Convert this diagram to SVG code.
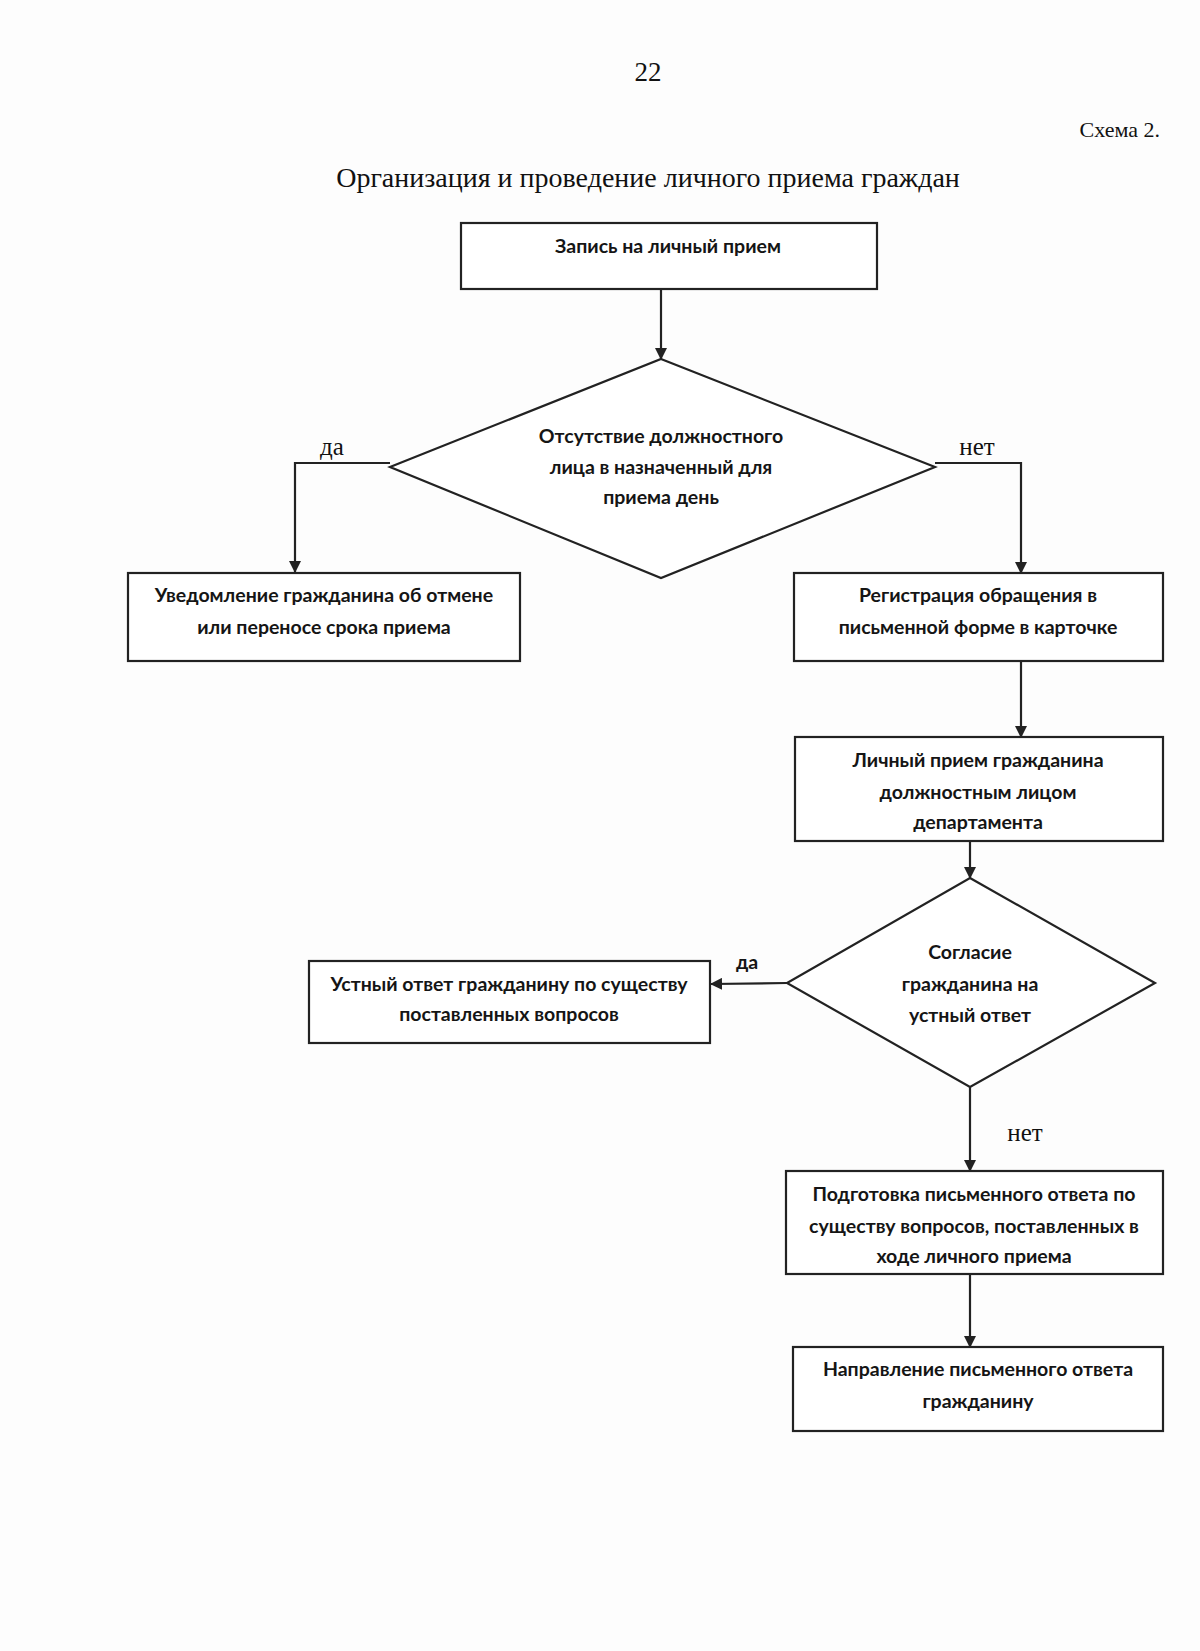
<svg xmlns="http://www.w3.org/2000/svg" width="1200" height="1651" viewBox="0 0 1200 1651">
<defs>
<marker id="ah" viewBox="0 0 12 12" refX="11" refY="6" markerWidth="12" markerHeight="12" markerUnits="userSpaceOnUse" orient="auto">
<path d="M0,0 L12,6 L0,12 z" fill="#222"/>
</marker>
<style>
.box{fill:#fff;stroke:#222;stroke-width:2.2}
.t{font-family:Lato,"Open Sans","Liberation Sans",sans-serif;font-size:19.5px;font-weight:bold;fill:#151515;text-anchor:middle}
.s{font-family:"Liberation Serif","Times New Roman",serif;fill:#111}
.c{fill:none;stroke:#222;stroke-width:2.2}
</style>
</defs>
<rect width="1200" height="1651" fill="#fdfdfd"/>
<text class="s" x="648" y="81" font-size="27" text-anchor="middle">22</text>
<text class="s" x="1160" y="137" font-size="22" text-anchor="end">Схема 2.</text>
<text class="s" x="648" y="187" font-size="28" text-anchor="middle">Организация и проведение личного приема граждан</text>

<g id="connectors">
<path class="c" d="M661,289 L661,359" marker-end="url(#ah)"/>
<path class="c" d="M390,463 L295,463 L295,572" marker-end="url(#ah)"/>
<path class="c" d="M935,463 L1021,463 L1021,573" marker-end="url(#ah)"/>
<path class="c" d="M1021,661 L1021,737" marker-end="url(#ah)"/>
<path class="c" d="M787,983 L711,984" marker-end="url(#ah)"/>
<path class="c" d="M970,829 L970,878" marker-end="url(#ah)"/>
<path class="c" d="M970,1087 L970,1171" marker-end="url(#ah)"/>
<path class="c" d="M970,1274 L970,1347" marker-end="url(#ah)"/>
<text class="s" x="332" y="455" font-size="25" text-anchor="middle">да</text>
<text class="s" x="977" y="455" font-size="25" text-anchor="middle">нет</text>
<text class="t" x="747" y="969">да</text>
<text class="s" x="1025" y="1141" font-size="25" text-anchor="middle">нет</text>
</g>

<g id="n1">
<rect class="box" x="461" y="223" width="416" height="66"/>
<text class="t" x="668" y="253">Запись на личный прием</text>
</g>
<g id="d1">
<polygon class="box" points="661,359 935,467 661,578 390,467"/>
<text class="t" x="661" y="443">Отсутствие должностного</text>
<text class="t" x="661" y="474">лица в назначенный для</text>
<text class="t" x="661" y="504">приема день</text>
</g>
<g id="n2">
<rect class="box" x="128" y="573" width="392" height="88"/>
<text class="t" x="324" y="602">Уведомление гражданина об отмене</text>
<text class="t" x="324" y="634">или переносе срока приема</text>
</g>
<g id="n3">
<rect class="box" x="794" y="573" width="369" height="88"/>
<text class="t" x="978" y="602">Регистрация обращения в</text>
<text class="t" x="978" y="634">письменной форме в карточке</text>
</g>
<g id="n4">
<rect class="box" x="795" y="737" width="368" height="104"/>
<text class="t" x="978" y="767">Личный прием гражданина</text>
<text class="t" x="978" y="799">должностным лицом</text>
<text class="t" x="978" y="829">департамента</text>
</g>
<g id="d2">
<polygon class="box" points="970,878 1155,983 970,1087 787,983"/>
<text class="t" x="970" y="959">Согласие</text>
<text class="t" x="970" y="991">гражданина на</text>
<text class="t" x="970" y="1022">устный ответ</text>
</g>
<g id="n5">
<rect class="box" x="309" y="961" width="401" height="82"/>
<text class="t" x="509" y="991">Устный ответ гражданину по существу</text>
<text class="t" x="509" y="1021">поставленных вопросов</text>
</g>
<g id="n6">
<rect class="box" x="786" y="1171" width="377" height="103"/>
<text class="t" x="974" y="1201">Подготовка письменного ответа по</text>
<text class="t" x="974" y="1233">существу вопросов, поставленных в</text>
<text class="t" x="974" y="1263">ходе личного приема</text>
</g>
<g id="n7">
<rect class="box" x="793" y="1347" width="370" height="84"/>
<text class="t" x="978" y="1376">Направление письменного ответа</text>
<text class="t" x="978" y="1408">гражданину</text>
</g>
</svg>
